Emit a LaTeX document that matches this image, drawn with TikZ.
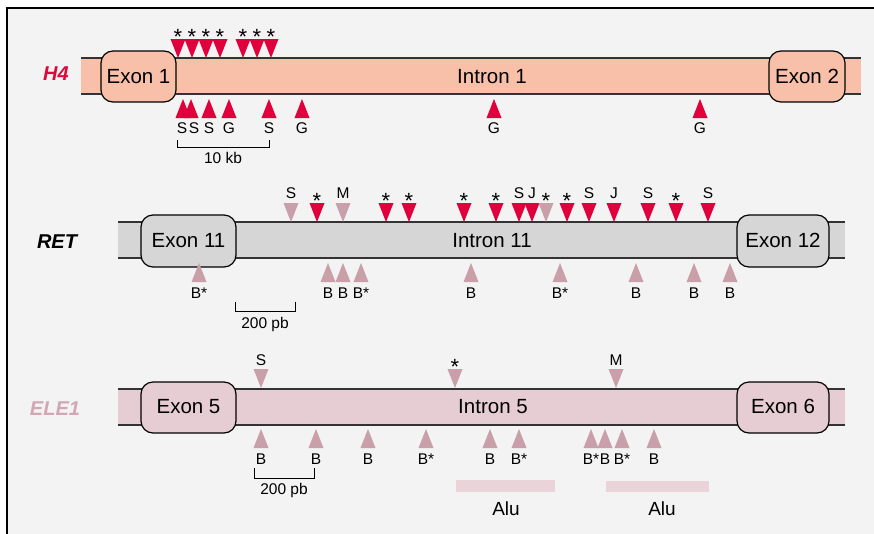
\documentclass[tikz,border=0pt]{standalone}
\usepackage{fontspec}
\setmainfont{Liberation Sans}
\definecolor{tred}{HTML}{E0003C}
\definecolor{tpink}{HTML}{C9A0AA}
\definecolor{hband}{HTML}{F8C0A8}
\definecolor{rband}{HTML}{D6D6D6}
\definecolor{eband}{HTML}{E6CCD3}
\definecolor{alucol}{HTML}{EBD3DA}
\definecolor{elecol}{HTML}{D3A6B4}
\definecolor{hcol}{HTML}{DC0A3C}
\definecolor{bgcol}{HTML}{F3F3F3}
\definecolor{edgecol}{HTML}{333333}
\newcommand\dtri[3]{\fill[#3] (#1-7.5,#2-19) -- (#1+7.5,#2-19) -- (#1,#2) -- cycle;}
\newcommand\utri[3]{\fill[#3] (#1-7.5,#2+19) -- (#1+7.5,#2+19) -- (#1,#2) -- cycle;}
\tikzset{
  exonbox/.style={draw=black, line width=1.2pt, rounded corners=12pt, inner sep=0pt, font=\fontsize{20.5}{24}\selectfont},
  intronlbl/.style={anchor=base, inner sep=0pt, font=\fontsize{20.5}{24}\selectfont},
  lbl/.style={anchor=base, inner sep=0pt, font=\fontsize{15.5}{18}\selectfont},
  starlbl/.style={anchor=base, inner sep=0pt, font=\fontsize{22}{24}\selectfont},
  genelbl/.style={anchor=base, inner sep=0pt, font=\fontsize{20}{22}\selectfont\bfseries\itshape},
  bandedge/.style={draw=edgecol, line width=1.2pt},
  scalebar/.style={draw=black, line width=0.8pt},
  alubar/.style={fill=alucol},
  alulbl/.style={anchor=base, inner sep=0pt, font=\fontsize{19}{22}\selectfont}
}
\begin{document}
\begin{tikzpicture}[x=1pt,y=-1pt]
\useasboundingbox (0,0) rectangle (874,533);
% frame
\fill[white] (0,0) rectangle (874,533);
\fill[bgcol] (7,8) rectangle (876,535);
\draw[black, line width=1.5pt] (7,535) -- (7,8) -- (876,8);

% ---------------- H4 ----------------
\fill[hband] (81,58) rectangle (861,94);
\coordinate (h4nw) at (81,58); \coordinate (h4ne) at (861,58);
\coordinate (h4sw) at (81,94); \coordinate (h4se) at (861,94);
\draw[bandedge] (h4nw) -- (h4ne);
\draw[bandedge] (h4sw) -- (h4se);
\node[exonbox, fill=hband, minimum width=75pt, minimum height=51pt] (ex1) at (138.5,76.5) {};
\node[exonbox, fill=hband, minimum width=76pt, minimum height=51pt] (ex2) at (807,76.5) {};
\node[intronlbl] (ex1t) at (138.5,83) {Exon 1};
\node[intronlbl] (ex2t) at (807,83) {Exon 2};
\node[intronlbl] (in1) at (492,83) {Intron 1};
\node[genelbl, text=hcol] (h4) at (56,80) {H4};
\foreach \x in {178,192,206,220,243,257,271}{
  \dtri{\x}{58}{tred}
  \node[starlbl] at (\x,44) {*};
}
\foreach \x/\t in {183/S,191/S,209/S,229/G,269/S,302/G,494/G,700/G}{
  \utri{\x}{99}{tred}
}
\foreach \x/\t in {182/S,194/S,209/S,229/G,269/S,302/G,494/G,700/G}{
  \node[lbl] at (\x,133) {\t};
}
\coordinate (sb1a) at (177,140); \coordinate (sb1b) at (269,140);
\draw[scalebar] (sb1a) -- ++(0,7) -| (sb1b);
\node[lbl] (kb) at (223,163) {10 kb};

% ---------------- RET ----------------
\fill[rband] (118,222) rectangle (845,258);
\coordinate (rnw) at (118,222); \coordinate (rne) at (845,222);
\coordinate (rsw) at (118,258); \coordinate (rse) at (845,258);
\draw[bandedge] (rnw) -- (rne);
\draw[bandedge] (rsw) -- (rse);
\node[exonbox, fill=rband, minimum width=95pt, minimum height=52pt] (ex11) at (188.5,241) {};
\node[exonbox, fill=rband, minimum width=92pt, minimum height=52pt] (ex12) at (783,241) {};
\node[intronlbl] at (188.5,247) {Exon 11};
\node[intronlbl] at (783,247) {Exon 12};
\node[intronlbl] (in11) at (492,247) {Intron 11};
\node[genelbl, text=black] (ret) at (57,248) {RET};
\foreach \x/\c/\t in {291/tpink/S,343/tpink/M,519/tred/S,532/tred/J,589/tred/S,614/tred/J,648/tred/S,708/tred/S}{
  \dtri{\x}{222}{\c}
  \node[lbl] at (\x,198) {\t};
}
\foreach \x/\c in {317/tred,386/tred,409/tred,464/tred,496/tred,546/tpink,567/tred,676/tred}{
  \dtri{\x}{222}{\c}
  \node[starlbl] at (\x,208.5) {*};
}
\foreach \x/\t in {199/B*,328/B,343/B,361/B*,471/B,560/B*,636/B,694/B,730/B}{
  \utri{\x}{263}{tpink}
  \node[lbl] at (\x,298) {\t};
}
\coordinate (sb2a) at (235,302); \coordinate (sb2b) at (295,302);
\draw[scalebar] (sb2a) -- ++(0,9) -| (sb2b);
\node[lbl] (pb1) at (265,328) {200 pb};

% ---------------- ELE1 ----------------
\fill[eband] (118,389) rectangle (845,425);
\coordinate (enw) at (118,389); \coordinate (ene) at (845,389);
\coordinate (esw) at (118,425); \coordinate (ese) at (845,425);
\draw[bandedge] (enw) -- (ene);
\draw[bandedge] (esw) -- (ese);
\node[exonbox, fill=eband, minimum width=95pt, minimum height=51pt] (ex5) at (188.5,407.5) {};
\node[exonbox, fill=eband, minimum width=92pt, minimum height=51pt] (ex6) at (783,407.5) {};
\node[intronlbl] at (188.5,413) {Exon 5};
\node[intronlbl] at (783,413) {Exon 6};
\node[intronlbl] (in5) at (493,413) {Intron 5};
\node[genelbl, text=elecol] (ele) at (55,415) {ELE1};
\dtri{261}{388}{tpink}
\node[lbl] at (261,365) {S};
\dtri{455}{388}{tpink}
\node[starlbl] at (455,374) {*};
\dtri{616}{388}{tpink}
\node[lbl] at (616,365) {M};
\foreach \x/\t in {261/B,316/B,368/B,426/B*,490/B,519/B*,591/B*,605/B,622/B*,654/B}{
  \utri{\x}{429}{tpink}
  \node[lbl] at (\x,464) {\t};
}
\coordinate (sb3a) at (254,468); \coordinate (sb3b) at (314,468);
\draw[scalebar] (sb3a) -- ++(0,10) -| (sb3b);
\node[lbl] (pb2) at (284,494) {200 pb};
\fill[alubar] (456,480) rectangle (555,492);
\fill[alubar] (606,481) rectangle (709,492);
\node[alulbl] (alu1) at (506,515) {Alu};
\node[alulbl] (alu2) at (662,515) {Alu};
\end{tikzpicture}
\end{document}
